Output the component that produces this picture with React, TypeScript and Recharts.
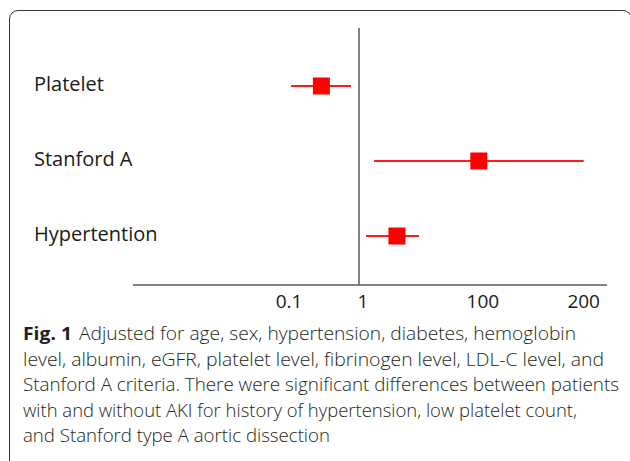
import React from 'react';
import { ScatterChart, Scatter, XAxis, YAxis, ReferenceLine, ErrorBar } from 'recharts';

const factors = ['Platelet', 'Stanford A', 'Hypertention'];
const oddsRatio = [0.29, 86, 4.1];
const ciLow = [0.107, 1.75, 1.3];
const ciHigh = [0.77, 200, 9.3];

const tickValues = [0.1, 1, 100, 200];
// the figure's axis is hand-spaced, so each tick gets its own slot and values are log-interpolated between
const tickSlots = [0, 1, 2.77, 4.21];

const captionLines = [
  'level, albumin, eGFR, platelet level, fibrinogen level, LDL-C level, and',
  'Stanford A criteria. There were significant differences between patients',
  'with and without AKI for history of hypertension, low platelet count,',
  'and Stanford type A aortic dissection',
];
const captionFirst = 'Adjusted for age, sex, hypertension, diabetes, hemoglobin';

function toSlot(v: number) {
  const lv = Math.log10(v);
  for (let i = 0; i < tickValues.length - 1; i++) {
    const a = Math.log10(tickValues[i]);
    const b = Math.log10(tickValues[i + 1]);
    if (lv <= b || i === tickValues.length - 2) {
      const f = (lv - a) / (b - a);
      return tickSlots[i] + f * (tickSlots[i + 1] - tickSlots[i]);
    }
  }
  return 0;
}

const rows = factors.map((name, i) => {
  const x = toSlot(oddsRatio[i]);
  return {
    name,
    x,
    y: factors.length - i,
    err: [x - toSlot(ciLow[i]), toSlot(ciHigh[i]) - x],
  };
});

const FONT = '"Open Sans", sans-serif';

function Square(props: any) {
  const { cx, cy } = props;
  return <rect x={cx - 8.5} y={cy - 8.5} width={17} height={17} fill="#ff0000" />;
}

function FactorTick(props: any) {
  const { y, payload } = props;
  const name = factors[factors.length - payload.value];
  return (
    <text x={34} y={y} dy={5} textAnchor="start" fontSize={20} fontFamily={FONT} fill="#1a1a1a">
      {name}
    </text>
  );
}

function ValueTick(props: any) {
  const { x, y, payload } = props;
  const label = String(tickValues[tickSlots.indexOf(payload.value)]);
  // the "1" label sits a little right of the reference line in the figure
  const nudge = label === '1' ? 4 : 0;
  return (
    <text x={x + nudge} y={y} dy="0.71em" textAnchor="middle" fontSize={19} fontFamily={FONT} fill="#1a1a1a">
      {label}
    </text>
  );
}

export default function App() {
  const lineWidths = [581, 596, 554, 307];
  return (
    <div
      style={{
        position: 'absolute',
        left: 0,
        top: 0,
        width: 630,
        height: 461,
        overflow: 'hidden',
        background: '#fff',
      }}
    >
      <div
        style={{
          position: 'absolute',
          left: 9,
          top: 10,
          width: 621,
          height: 458,
          border: '1.5px solid #333',
          borderRadius: 9,
        }}
      />
      <div style={{ position: 'absolute', left: 0, top: 0 }}>
        <ScatterChart width={630} height={330} margin={{ top: 28, right: 23, left: 33, bottom: 0 }}>
          <XAxis
            dataKey="x"
            type="number"
            domain={[-2.229, 4.543]}
            ticks={tickSlots}
            allowDataOverflow
            axisLine={{ stroke: '#595959', strokeWidth: 1.5 }}
            tickLine={false}
            tickMargin={4}
            height={45}
            tick={<ValueTick />}
          />
          <YAxis
            dataKey="y"
            type="number"
            domain={[0.347, 3.773]}
            ticks={[1, 2, 3]}
            width={100}
            axisLine={false}
            tickLine={false}
            tick={<FactorTick />}
          />
          <ReferenceLine x={1} stroke="#595959" strokeWidth={1.5} />
          <Scatter data={rows} shape={<Square />} isAnimationActive={false}>
            <ErrorBar dataKey="err" direction="x" width={0} stroke="#ff1a1a" strokeWidth={2} />
          </Scatter>
        </ScatterChart>
      </div>
      <svg width={630} height={461} style={{ position: 'absolute', left: 0, top: 0 }}>
        <g fontFamily={FONT} fontSize={18.5} fill="#231f20">
          <text x={23} y={340} fontWeight={700} textLength={49} lengthAdjust="spacingAndGlyphs">
            Fig. 1
          </text>
          <text x={79} y={340} fontWeight={300} textLength={497} lengthAdjust="spacingAndGlyphs">
            {captionFirst}
          </text>
          {captionLines.map((line, i) => (
            <text
              key={i}
              x={23}
              y={366 + i * 25.4}
              fontWeight={300}
              textLength={lineWidths[i]}
              lengthAdjust="spacingAndGlyphs"
            >
              {line}
            </text>
          ))}
        </g>
      </svg>
    </div>
  );
}
